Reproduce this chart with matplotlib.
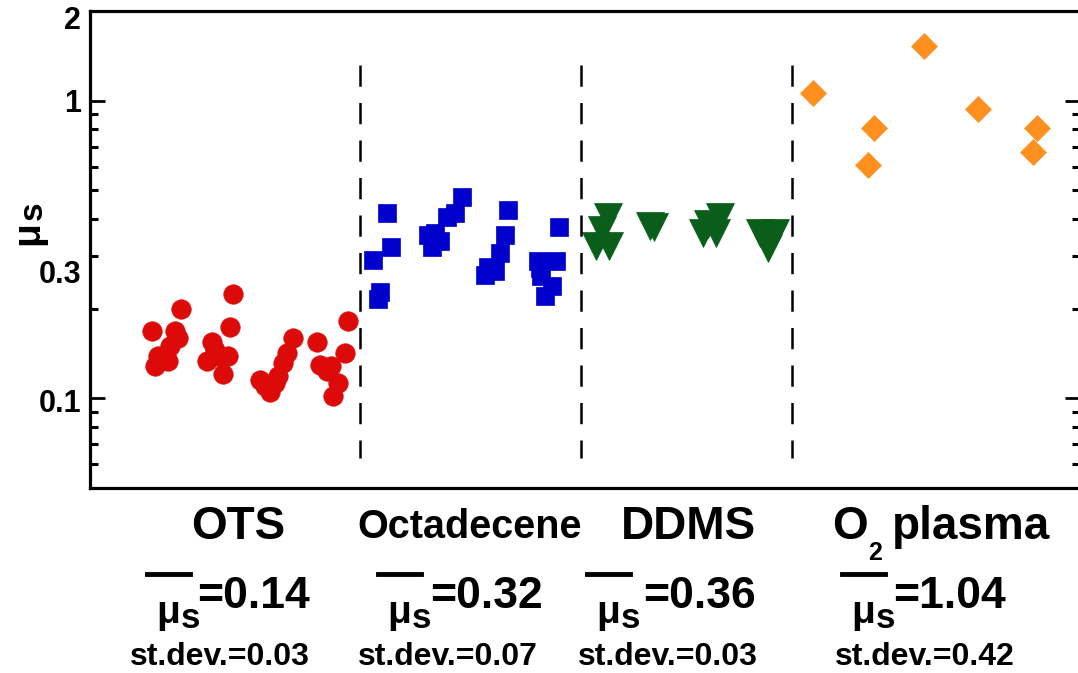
import matplotlib
matplotlib.use("Agg")
import matplotlib.pyplot as plt
from matplotlib.ticker import FixedLocator, NullFormatter
from matplotlib.transforms import ScaledTranslation
from matplotlib.lines import Line2D

plt.rcParams["font.family"] = ["Liberation Sans", "DejaVu Sans"]
plt.rcParams["font.weight"] = "bold"

# data (x = sample position along the axis, y = mu_s)
ots_x = [152, 158, 155, 168, 170, 175, 181, 163, 178,
         212, 207, 218, 223, 228, 230, 233, 215,
         260, 265, 270, 278, 283, 287, 293, 275,
         317, 320, 327, 333, 338, 345, 348, 331]
ots_y = [0.168, 0.139, 0.128, 0.134, 0.150, 0.168, 0.199, 0.135, 0.160,
         0.155, 0.134, 0.139, 0.121, 0.139, 0.174, 0.224, 0.145,
         0.115, 0.110, 0.105, 0.119, 0.131, 0.142, 0.159, 0.113,
         0.155, 0.129, 0.124, 0.1016, 0.113, 0.142, 0.182, 0.128]

octa_x = [373, 380, 378, 387, 391,
          428, 432, 440, 447, 455, 462, 435,
          508, 505, 500, 488, 495, 485,
          538, 556, 541, 552, 545, 559, 540]
octa_y = [0.292, 0.228, 0.216, 0.419, 0.322,
          0.354, 0.322, 0.338, 0.406, 0.420, 0.474, 0.360,
          0.429, 0.354, 0.308, 0.276, 0.268, 0.260,
          0.290, 0.290, 0.258, 0.239, 0.221, 0.376, 0.275]

ddms_x = [608, 602, 596, 609, 650, 654, 720, 708, 703, 716, 760, 775, 770, 768]
ddms_y = [0.406, 0.368, 0.325, 0.325, 0.379, 0.375, 0.406, 0.385, 0.359, 0.359,
          0.359, 0.359, 0.335, 0.320]

o2_x = [813, 874, 868, 924, 978, 1037, 1033]
o2_y = [1.064, 0.812, 0.606, 1.527, 0.940, 0.812, 0.670]

dividers = [360, 581, 792]

groups = ["OTS", "Octadecene", "DDMS", "O2 plasma"]
means = ["0.14", "0.32", "0.36", "1.04"]
stdevs = ["0.03", "0.07", "0.03", "0.42"]

W, H = 1078, 673
fig = plt.figure(figsize=(W / 100, H / 100), dpi=100)
ax = fig.add_axes([90 / W, (H - 488) / H, (1080 - 90) / W, (488 - 11) / H])


def px(x, y):
    return x / W, 1 - y / H


ax.set_yscale("log")
ax.set_ylim(0.05, 2)
ax.set_xlim(90, 1080)

ax.plot(ots_x, ots_y, "o", ms=14, color="#dd0a0a", mec="#dd0a0a", mew=0.5)
ax.plot(octa_x, octa_y, "s", ms=12.5, color="#0000cc", mec="#0000cc", mew=0.5)
ax.plot(ddms_x, ddms_y, "v", ms=20, color="#0a5e1a", mec="#0a5e1a", mew=0.5)
ax.plot(o2_x, o2_y, "D", ms=13, color="#ff9020", mec="#ff9020", mew=0.5)

for xd in dividers:
    ax.plot([xd, xd], [1.32, 0.063], color="black", lw=1.8,
            linestyle=(0, (8.5, 6.5)))

for s in ax.spines.values():
    s.set_linewidth(2.3)

ax.set_xticks([])
ax.yaxis.set_major_locator(FixedLocator([0.1, 1]))
ax.yaxis.set_minor_locator(FixedLocator([0.06, 0.07, 0.08, 0.09,
                                         0.2, 0.3, 0.4, 0.5, 0.6, 0.7, 0.8, 0.9]))
ax.yaxis.set_major_formatter(NullFormatter())
ax.yaxis.set_minor_formatter(NullFormatter())
ax.tick_params(axis="y", which="major", direction="in", length=11, width=2,
               left=True, right=True)
ax.tick_params(axis="y", which="minor", direction="in", length=5.5, width=2.2,
               left=True, right=True)

# y tick labels (slightly offset downwards like the original)
for val, lab, dy in [(2, "2", 10), (1, "1", 3), (0.3, "0.3", 19), (0.1, "0.1", 6)]:
    tr = ax.get_yaxis_transform() + ScaledTranslation(0, -dy / 100, fig.dpi_scale_trans)
    ax.text(-9 / 990, val, lab, transform=tr, ha="right", va="center",
            fontsize=22, fontweight="bold")

# y label: mu with subscript s, rotated
fig.text(*px(28, 233), "\u03bc", rotation=90, ha="center", va="center",
         fontsize=28, fontweight="bold")
fig.text(*px(33, 211), "s", rotation=90, ha="center", va="center",
         fontsize=24, fontweight="bold")

# group names
name_x = [238, 470, 688]
name_size = [33, 28.5, 33]
for x, name, fs in zip(name_x, groups[:3], name_size):
    fig.text(*px(x, 527), name, ha="center", va="center", fontsize=fs,
             fontweight="bold")
fig.text(*px(832, 527), "O", ha="left", va="center", fontsize=33, fontweight="bold")
fig.text(*px(875, 553), "2", ha="center", va="center", fontsize=18, fontweight="bold")
fig.text(*px(892, 527), "plasma", ha="left", va="center", fontsize=33,
         fontweight="bold")

# mean and st.dev. rows
bar_x = [147, 378, 587, 842]
eq_x = [197, 430, 643, 893]
sd_x = [220, 448, 668, 925]
for bx, ex, sx, m, sd in zip(bar_x, eq_x, sd_x, means, stdevs):
    fig.add_artist(Line2D([bx / W, (bx + 43) / W], [1 - 574 / H, 1 - 574 / H],
                          color="black", lw=3.5, transform=fig.transFigure))
    fig.text(*px(bx + 9, 623), "\u03bc", ha="left", va="baseline", fontsize=28,
             fontweight="bold")
    fig.text(*px(bx + 34, 628), "s", ha="left", va="baseline", fontsize=25,
             fontweight="bold")
    fig.text(*px(ex, 608), "=" + m, ha="left", va="baseline", fontsize=32,
             fontweight="bold")
    fig.text(*px(sx, 657), "st.dev.=" + sd, ha="center", va="center",
             fontsize=23, fontweight="bold")

fig.savefig("out.png", dpi=100)
